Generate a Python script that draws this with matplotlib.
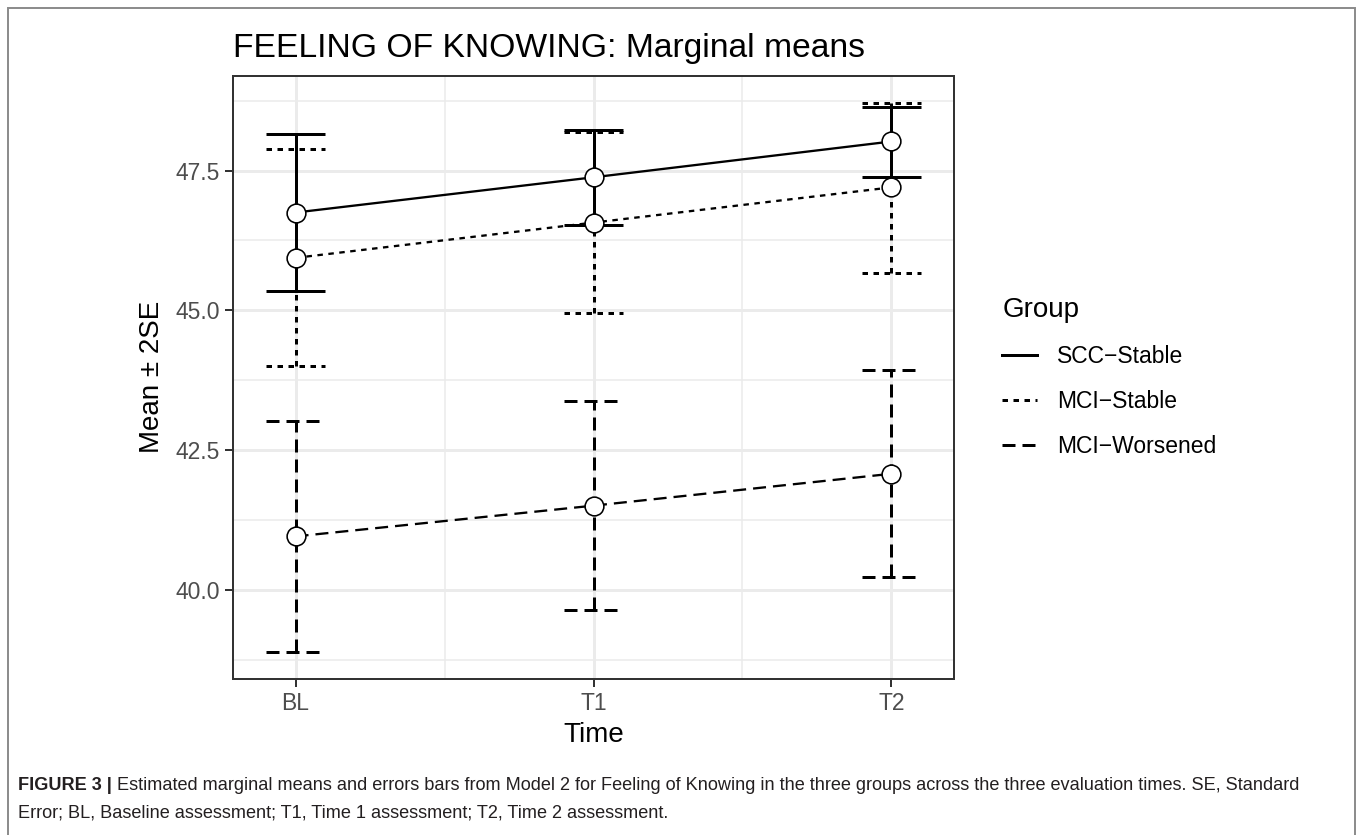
import matplotlib
matplotlib.use("Agg")
import matplotlib.pyplot as plt
from matplotlib.lines import Line2D
from matplotlib.patches import Rectangle
from matplotlib.ticker import FixedLocator

plt.rcParams['font.family'] = ['Liberation Sans', 'DejaVu Sans']
plt.rcParams['lines.scale_dashes'] = False

# ---- data: estimated marginal means and +/- 2SE limits ----
times = ["BL", "T1", "T2"]
time_pos = [1, 2, 3]
groups = ["SCC\u2212Stable", "MCI\u2212Stable", "MCI\u2212Worsened"]

scc_mean = [46.75, 47.38, 48.02]
scc_lo = [45.34, 46.53, 47.39]
scc_hi = [48.16, 48.22, 48.64]

mcis_mean = [45.94, 46.57, 47.20]
mcis_lo = [44.00, 44.95, 45.67]
mcis_hi = [47.88, 48.19, 48.71]

mciw_mean = [40.96, 41.51, 42.08]
mciw_lo = [38.90, 39.64, 40.23]
mciw_hi = [43.02, 43.38, 43.93]

y_major = [40.0, 42.5, 45.0, 47.5]
y_minor = [38.75, 41.25, 43.75, 46.25, 48.75]
x_minor = [1.5, 2.5]

# ---- styles ----
W, H = 1357, 835
px = 0.72  # points per pixel at dpi 100
styles = {
    groups[0]: '-',
    groups[1]: (0, (5.5 * px, 5.5 * px)),
    groups[2]: (0, (13 * px, 7 * px)),
}
series = [
    (groups[0], scc_mean, scc_lo, scc_hi),
    (groups[1], mcis_mean, mcis_lo, mcis_hi),
    (groups[2], mciw_mean, mciw_lo, mciw_hi),
]

fig = plt.figure(figsize=(W / 100, H / 100), dpi=100)
fig.patch.set_facecolor('white')

# outer frame around figure and caption
fig.add_artist(Rectangle((8 / W, -0.05), (1355 - 8) / W, 1 - 8 / H + 0.05,
                         transform=fig.transFigure, fill=False,
                         edgecolor='#8a8a8a', linewidth=1.4, clip_on=False))

ax = fig.add_axes([233 / W, 1 - 679 / H, (954 - 233) / W, (679 - 75.7) / H])
ax.set_xlim(0.79, 3.21)
ax.set_ylim(38.411, 49.196)

# grid
for y in y_minor:
    ax.axhline(y, color='#ebebeb', lw=1.5 * px, zorder=0)
for x in x_minor:
    ax.axvline(x, color='#ebebeb', lw=1.5 * px, zorder=0)
for y in y_major:
    ax.axhline(y, color='#ebebeb', lw=3 * px, zorder=0.5)
for x in time_pos:
    ax.axvline(x, color='#ebebeb', lw=3 * px, zorder=0.5)

cap = 0.1
eb_lw = 3 * px
ln_lw = 2.3 * px
for name, mean, lo, hi in series:
    ls = styles[name]
    for x, l, h in zip(time_pos, lo, hi):
        ax.plot([x, x], [l, h], color='black', lw=eb_lw, ls=ls,
                dash_capstyle='butt', solid_capstyle='butt', zorder=2)
        ax.plot([x - cap, x + cap], [h, h], color='black', lw=eb_lw, ls=ls,
                dash_capstyle='butt', solid_capstyle='butt', zorder=2)
        ax.plot([x - cap, x + cap], [l, l], color='black', lw=eb_lw, ls=ls,
                dash_capstyle='butt', solid_capstyle='butt', zorder=2)
    ax.plot(time_pos, mean, color='black', lw=ln_lw, ls=ls,
            dash_capstyle='butt', zorder=3)
    ax.plot(time_pos, mean, ls='none', marker='o', ms=13.5, mfc='white',
            mec='black', mew=1.6 * px, zorder=4)

ax.set_xticks(time_pos)
ax.set_xticklabels(times)
ax.yaxis.set_major_locator(FixedLocator(y_major))
ax.set_yticklabels([f"{v:.1f}" for v in y_major])
ax.tick_params(axis='both', length=8 * px, width=2 * px, color='#333333',
               labelsize=16.5, labelcolor='#4d4d4d', pad=3.5)
for s in ax.spines.values():
    s.set_color('#333333')
    s.set_linewidth(2 * px)

ax.set_xlabel("Time", fontsize=20, labelpad=5)
ax.set_ylabel("Mean \u00b1 2SE", fontsize=20, labelpad=8)

# legend
handles = [Line2D([], [], color='black', lw=eb_lw, ls=styles[g],
                  dash_capstyle='butt') for g in groups]
leg = fig.legend(handles, groups, title="Group", loc='upper left',
                 bbox_to_anchor=(991 / W, 1 - 286 / H), frameon=False,
                 fontsize=16.5, title_fontsize=20, handlelength=1.5,
                 handletextpad=0.9, labelspacing=0.95, borderpad=0,
                 alignment='left')

# title, fitted to its measured width
title = fig.text(233 / W, 1 - 57.5 / H, "FEELING OF KNOWING: Marginal means",
                 fontsize=24, ha='left', va='baseline', color='black')
fig.canvas.draw()
r = fig.canvas.get_renderer()
tw = title.get_window_extent(r).width
title.set_fontsize(24 * 632 / tw)

# caption, first line fitted to span x = 18 .. 1300 px
cap_color = '#231f20'
bold_part = "FIGURE 3 |"
rest = ("Estimated marginal means and errors bars from Model 2 for Feeling of "
        "Knowing in the three groups across the three evaluation times. SE, Standard")
line2 = "Error; BL, Baseline assessment; T1, Time 1 assessment; T2, Time 2 assessment."

fs_cap = 12.0
b = fig.text(18 / W, 1 - 790 / H, bold_part, fontsize=fs_cap,
             fontweight='bold', ha='left', va='baseline', color=cap_color)
t1 = fig.text(0, 1 - 790 / H, rest, fontsize=fs_cap,
              ha='left', va='baseline', color=cap_color)
fig.canvas.draw()
total = b.get_window_extent(r).width + t1.get_window_extent(r).width + 5
fs_cap = fs_cap * (1282 - 5) / (total - 5)
b.set_fontsize(fs_cap)
t1.set_fontsize(fs_cap)
fig.canvas.draw()
bw = b.get_window_extent(r).width
t1.set_x((18 + bw + 5) / W)
fig.text(18 / W, 1 - 817 / H, line2, fontsize=fs_cap,
         ha='left', va='baseline', color=cap_color)

fig.savefig("out.png", dpi=100, facecolor='white')
